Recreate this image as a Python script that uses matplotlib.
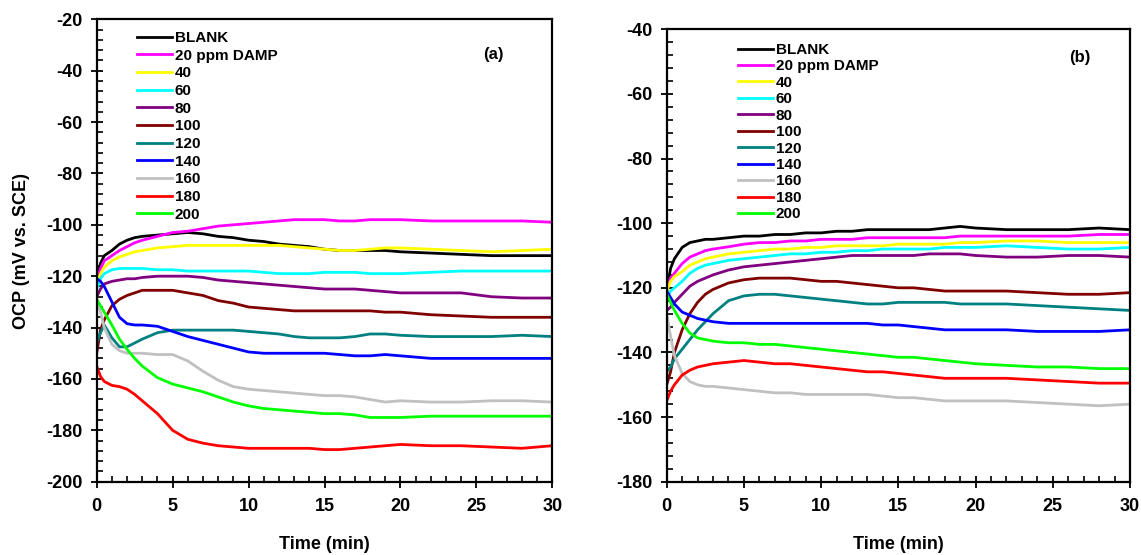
import matplotlib
matplotlib.use("Agg")
import matplotlib.pyplot as plt
from matplotlib.ticker import MultipleLocator

plt.rcParams['font.family'] = ['Liberation Sans', 'DejaVu Sans']
plt.rcParams['font.weight'] = 'bold'
plt.rcParams['axes.unicode_minus'] = False

labels = ["BLANK", "20 ppm DAMP", "40", "60", "80", "100", "120", "140", "160", "180", "200"]
colors = ["#000000", "#FF00FF", "#FFFF00", "#00FFFF", "#800080", "#800000",
          "#008080", "#0000FF", "#C0C0C0", "#FF0000", "#00FF00"]

# time grid (min), shared by both panels
t = [0, 0.25, 0.5, 1, 1.5, 2, 2.5, 3, 4, 5, 6, 7, 8, 9, 10, 11, 12, 13, 14, 15,
     16, 17, 18, 19, 20, 22, 24, 26, 28, 30]

# panel (a)
a_blank = [-121, -115, -112, -110, -107.5, -106, -105, -104.5, -104, -103.5, -103, -103.5, -104.5, -105, -106,
           -106.5, -107.5, -108, -108.5, -109.5, -110, -110, -110, -110, -110.5, -111, -111.5, -112, -112, -112]
a_20 = [-122, -117, -114, -112, -110, -108.5, -107, -106, -104.5, -103, -102.5, -101.5, -100.5, -100, -99.5,
        -99, -98.5, -98, -98, -98, -98.5, -98.5, -98, -98, -98, -98.5, -98.5, -98.5, -98.5, -99]
a_40 = [-123, -119, -116.5, -114, -112.5, -111.5, -110.5, -110, -109, -108.5, -108, -108, -108, -108, -108,
        -108, -108, -108.5, -109, -109.5, -110, -110, -109.5, -109, -109, -109.5, -110, -110.5, -110, -109.5]
a_60 = [-125, -121, -119, -117.5, -117, -117, -117, -117, -117.5, -117.5, -118, -118, -118, -118, -118,
        -118.5, -119, -119, -119, -118.5, -118.5, -118.5, -119, -119, -119, -118.5, -118, -118, -118, -118]
a_80 = [-128, -125, -123, -122, -121.5, -121, -121, -120.5, -120, -120, -120, -120.5, -121.5, -122, -122.5,
        -123, -123.5, -124, -124.5, -125, -125, -125, -125.5, -126, -126.5, -126.5, -126.5, -128, -128.5, -128.5]
a_100 = [-150, -141, -137, -131.5, -129, -127.5, -126.5, -125.5, -125.5, -125.5, -126.5, -127.5, -129.5, -130.5, -132,
         -132.5, -133, -133.5, -133.5, -133.5, -133.5, -133.5, -133.5, -134, -134, -135, -135.5, -136, -136, -136]
a_120 = [-146, -142, -139, -144, -147.5, -147.5, -146, -144.5, -142, -141, -141, -141, -141, -141, -141.5,
         -142, -142.5, -143.5, -144, -144, -144, -143.5, -142.5, -142.5, -143, -143.5, -143.5, -143.5, -143, -143.5]
a_140 = [-121, -122, -124, -130, -136, -138.5, -139, -139, -139.5, -141.5, -143.5, -145, -146.5, -148, -149.5,
         -150, -150, -150, -150, -150, -150.5, -151, -151, -150.5, -151, -152, -152, -152, -152, -152]
a_160 = [-129, -134, -140, -146.5, -149, -150, -150, -150, -150.5, -150.5, -153, -157, -160.5, -163, -164,
         -164.5, -165, -165.5, -166, -166.5, -166.5, -167, -168, -169, -168.5, -169, -169, -168.5, -168.5, -169]
a_180 = [-155, -159, -161, -162.5, -163, -164, -166, -168.5, -173.5, -180, -183.5, -185, -186, -186.5, -187,
         -187, -187, -187, -187, -187.5, -187.5, -187, -186.5, -186, -185.5, -186, -186, -186.5, -187, -186]
a_200 = [-129, -131.5, -134, -139, -144.5, -148.5, -152, -155, -159.5, -162, -163.5, -165, -167, -169, -170.5,
         -171.5, -172, -172.5, -173, -173.5, -173.5, -174, -175, -175, -175, -174.5, -174.5, -174.5, -174.5, -174.5]

# panel (b)
b_blank = [-121, -114, -111, -107.5, -106, -105.5, -105, -105, -104.5, -104, -104, -103.5, -103.5, -103, -103,
           -102.5, -102.5, -102, -102, -102, -102, -102, -101.5, -101, -101.5, -102, -102, -102, -101.5, -102]
b_20 = [-121, -117, -115.5, -112.5, -110.5, -109.5, -108.5, -108, -107.3, -106.5, -106, -106, -105.5, -105.5, -105,
        -105, -105, -104.5, -104.5, -104.5, -104.5, -104.5, -104.5, -104, -104, -104, -104, -104, -103.5, -103.5]
b_40 = [-121, -118, -116.5, -115, -113, -112, -111, -110.5, -109.5, -109, -108.5, -108, -108, -107.5, -107.5,
        -107, -107, -107, -107, -106.5, -106.5, -106.5, -106.5, -106, -106, -105.5, -105.5, -106, -106, -106]
b_60 = [-123, -121, -120, -118, -115.5, -114, -113, -112.5, -111.5, -111, -110.5, -110, -109.5, -109.5, -109,
        -109, -108.5, -108.5, -108, -108, -108, -108, -107.5, -107.5, -107.5, -107, -107.5, -108, -108, -107.5]
b_80 = [-127, -126, -124.5, -122, -119.5, -118, -117, -116, -114.5, -113.5, -113, -112.5, -112, -111.5, -111,
        -110.5, -110, -110, -110, -110, -110, -109.5, -109.5, -109.5, -110, -110.5, -110.5, -110, -110, -110.5]
b_100 = [-150, -146, -140, -133, -128, -124.5, -122, -120.5, -118.5, -117.5, -117, -117, -117, -117.5, -118,
         -118, -118.5, -119, -119.5, -120, -120, -120.5, -121, -121, -121, -121, -121.5, -122, -122, -121.5]
b_120 = [-146, -144.5, -142, -139, -136, -133, -130.5, -128, -124, -122.5, -122, -122, -122.5, -123, -123.5,
         -124, -124.5, -125, -125, -124.5, -124.5, -124.5, -124.5, -125, -125, -125, -125.5, -126, -126.5, -127]
b_140 = [-121, -123, -125, -127.5, -128.5, -129.5, -130, -130.5, -131, -131, -131, -131, -131, -131, -131,
         -131, -131, -131, -131.5, -131.5, -132, -132.5, -133, -133, -133, -133, -133.5, -133.5, -133.5, -133]
b_160 = [-128, -135, -141, -146.5, -149, -150, -150.5, -150.5, -151, -151.5, -152, -152.5, -152.5, -153, -153,
         -153, -153, -153, -153.5, -154, -154, -154.5, -155, -155, -155, -155, -155.5, -156, -156.5, -156]
b_180 = [-155, -152, -150, -147, -145.5, -144.5, -144, -143.5, -143, -142.5, -143, -143.5, -143.5, -144, -144.5,
         -145, -145.5, -146, -146, -146.5, -147, -147.5, -148, -148, -148, -148, -148.5, -149, -149.5, -149.5]
b_200 = [-122, -124.5, -127, -131, -134, -135.5, -136, -136.5, -137, -137, -137.5, -137.5, -138, -138.5, -139,
         -139.5, -140, -140.5, -141, -141.5, -141.5, -142, -142.5, -143, -143.5, -144, -144.5, -144.5, -145, -145]

series_a = [a_blank, a_20, a_40, a_60, a_80, a_100, a_120, a_140, a_160, a_180, a_200]
series_b = [b_blank, b_20, b_40, b_60, b_80, b_100, b_120, b_140, b_160, b_180, b_200]

W, H = 1141, 555
fig = plt.figure(figsize=(W / 100, H / 100), dpi=100)
ax1 = fig.add_axes([96.7 / W, 1 - 481.7 / H, (552.3 - 96.7) / W, (481.7 - 19.3) / H])
ax2 = fig.add_axes([666.7 / W, 1 - 481.7 / H, (1130 - 666.7) / W, (481.7 - 29.3) / H])


def style_axes(ax, ylim, ystep):
    ax.set_xlim(0, 30)
    ax.set_ylim(*ylim)
    ax.xaxis.set_major_locator(MultipleLocator(5))
    ax.xaxis.set_minor_locator(MultipleLocator(1))
    ax.yaxis.set_major_locator(MultipleLocator(ystep))
    ax.yaxis.set_minor_locator(MultipleLocator(ystep / 5))
    ax.tick_params(which='major', direction='inout', length=8, width=1.3, labelsize=13)
    ax.tick_params(which='minor', direction='in', length=4, width=1.2)
    ax.tick_params(axis='x', which='major', pad=8)
    ax.tick_params(axis='y', which='major', pad=6)
    for s in ax.spines.values():
        s.set_linewidth(1.6)
    for lab in ax.get_xticklabels() + ax.get_yticklabels():
        lab.set_fontweight('bold')
    ax.set_xlabel("Time (min)", fontsize=13, fontweight='bold', labelpad=15)


for ax, data in [(ax1, series_a), (ax2, series_b)]:
    for vals, lab, c in zip(data, labels, colors):
        ax.plot(t, vals, color=c, lw=2.0, label=lab)

style_axes(ax1, (-200, -20), 20)
style_axes(ax2, (-180, -40), 20)
ax1.set_ylabel("OCP (mV vs. SCE)", fontsize=13, fontweight='bold', labelpad=12)

leg_kw = dict(loc='upper left', frameon=False, handlelength=2.3, handletextpad=0.2,
              borderpad=0, borderaxespad=0, prop={'weight': 'bold', 'size': 11})
ax1.legend(bbox_to_anchor=(0.088, 0.975), labelspacing=0.24, **leg_kw)
ax2.legend(bbox_to_anchor=(0.153, 0.970), labelspacing=0.16, **leg_kw)

ax1.text(0.87, 0.923, "(a)", transform=ax1.transAxes, ha='center', va='center',
         fontsize=12, fontweight='bold')
ax2.text(0.892, 0.937, "(b)", transform=ax2.transAxes, ha='center', va='center',
         fontsize=12, fontweight='bold')

fig.savefig("out.png", dpi=100)
